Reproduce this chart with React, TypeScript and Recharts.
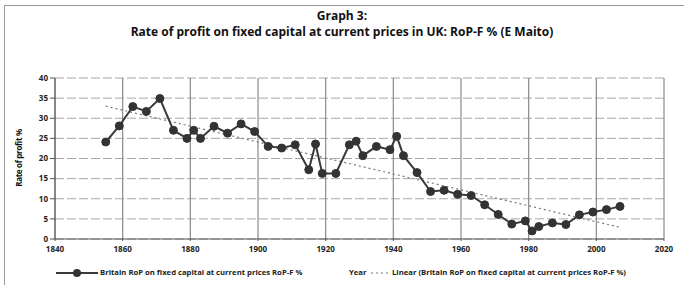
import React from 'react';
import { LineChart, Line, XAxis, YAxis, CartesianGrid } from 'recharts';

const years = [1855, 1859, 1863, 1867, 1871, 1875, 1879, 1881, 1883, 1887, 1891, 1895, 1899, 1903, 1907, 1911, 1915, 1917, 1919, 1923, 1927, 1929, 1931, 1935, 1939, 1941, 1943, 1947, 1951, 1955, 1959, 1963, 1967, 1971, 1975, 1979, 1981, 1983, 1987, 1991, 1995, 1999, 2003, 2007];
const ropValues = [24.1, 28.1, 32.9, 31.7, 34.9, 27.0, 25.0, 27.0, 25.0, 28.0, 26.3, 28.6, 26.7, 23.0, 22.6, 23.4, 17.2, 23.6, 16.3, 16.3, 23.4, 24.3, 20.7, 23.0, 22.2, 25.5, 20.7, 16.5, 11.8, 12.1, 11.1, 10.8, 8.5, 6.1, 3.7, 4.5, 2.0, 3.1, 4.0, 3.6, 6.0, 6.7, 7.3, 8.1];
const trendYears = [1855, 2007];
const trendValues = [33.0, 2.9];
const xTicks = [1840, 1860, 1880, 1900, 1920, 1940, 1960, 1980, 2000, 2020];
const yTicks = [0, 5, 10, 15, 20, 25, 30, 35, 40];

const titleLine1 = 'Graph 3:';
const titleLine2 = 'Rate of profit on fixed capital at current prices in UK: RoP-F % (E Maito)';
const seriesName = 'Britain RoP on fixed capital at current prices RoP-F %';
const trendName = 'Linear (Britain RoP on fixed capital at current prices RoP-F %)';
const yLabel = 'Rate of profit %';

const data = years.map((y, i) => ({ year: y, rop: ropValues[i] }));
const trendData = trendYears.map((y, i) => ({ year: y, trend: trendValues[i] }));

const FONT = '"Open Sans", "Noto Sans", sans-serif';

export default function App() {
  return (
    <div style={{ position: 'fixed', left: 0, top: 0, width: 684, height: 285, background: '#fff', fontFamily: FONT, overflow: 'hidden' }}>
      <div style={{ position: 'absolute', left: 4, top: 5, width: 700, height: 300, borderLeft: '1px solid #9a9a9a', borderTop: '1px solid #9a9a9a' }} />
      <div style={{ position: 'absolute', left: 0, width: 684, top: 8, textAlign: 'center', fontWeight: 700, fontSize: 12, lineHeight: '16px', color: '#111' }}>
        <div>{titleLine1}</div>
        <div>{titleLine2}</div>
      </div>
      <div style={{ position: 'absolute', left: 0, top: 0 }}>
        <LineChart width={684} height={285} data={data} margin={{ top: 78, right: 20, bottom: 26, left: 25 }}>
          <CartesianGrid horizontal={true} vertical={false} stroke="#a8a8a8" strokeDasharray="9 3" />
          <CartesianGrid horizontal={false} vertical={true} stroke="#8a8a8a" strokeWidth={1.2} />
          <XAxis
            type="number"
            dataKey="year"
            domain={[1840, 2020]}
            ticks={xTicks}
            interval={0}
            height={20}
            stroke="#555"
            tickSize={2}
            tickMargin={5}
            tick={{ fontSize: 8, fontWeight: 700, fill: '#222', fontFamily: FONT }}
          />
          <YAxis
            type="number"
            domain={[0, 40]}
            ticks={yTicks}
            interval={0}
            width={30}
            stroke="#555"
            tickSize={5}
            tick={{ fontSize: 8, fontWeight: 700, fill: '#222', fontFamily: FONT }}
          />
          <Line
            data={trendData}
            dataKey="trend"
            type="linear"
            stroke="#777"
            strokeWidth={1.2}
            strokeDasharray="2 3"
            dot={false}
            isAnimationActive={false}
          />
          <Line
            dataKey="rop"
            type="linear"
            stroke="#3a3a3a"
            strokeWidth={2}
            dot={{ r: 4, fill: '#333', stroke: '#333', strokeWidth: 1 }}
            isAnimationActive={false}
          />
        </LineChart>
      </div>
      <div style={{ position: 'absolute', left: 18, top: 158, transform: 'translate(-50%, -50%) rotate(-90deg)', fontSize: 8, fontWeight: 700, whiteSpace: 'nowrap', color: '#111', letterSpacing: -0.3 }}>
        {yLabel}
      </div>
      <div style={{ position: 'absolute', left: 0, top: 266, width: 684, height: 14, fontSize: 7.7, fontWeight: 700, color: '#222', whiteSpace: 'nowrap' }}>
        <svg style={{ position: 'absolute', left: 56, top: 2 }} width={42} height={10}>
          <line x1={0} y1={5} x2={42} y2={5} stroke="#3a3a3a" strokeWidth={2} />
          <circle cx={21} cy={5} r={4} fill="#333" />
        </svg>
        <span style={{ position: 'absolute', left: 100, top: 1 }}>{seriesName}</span>
        <span style={{ position: 'absolute', left: 349, top: 1 }}>Year</span>
        <svg style={{ position: 'absolute', left: 371, top: 2 }} width={18} height={10}>
          <line x1={0} y1={5} x2={18} y2={5} stroke="#777" strokeWidth={1.2} strokeDasharray="2 3" />
        </svg>
        <span style={{ position: 'absolute', left: 392, top: 1 }}>{trendName}</span>
      </div>
    </div>
  );
}
